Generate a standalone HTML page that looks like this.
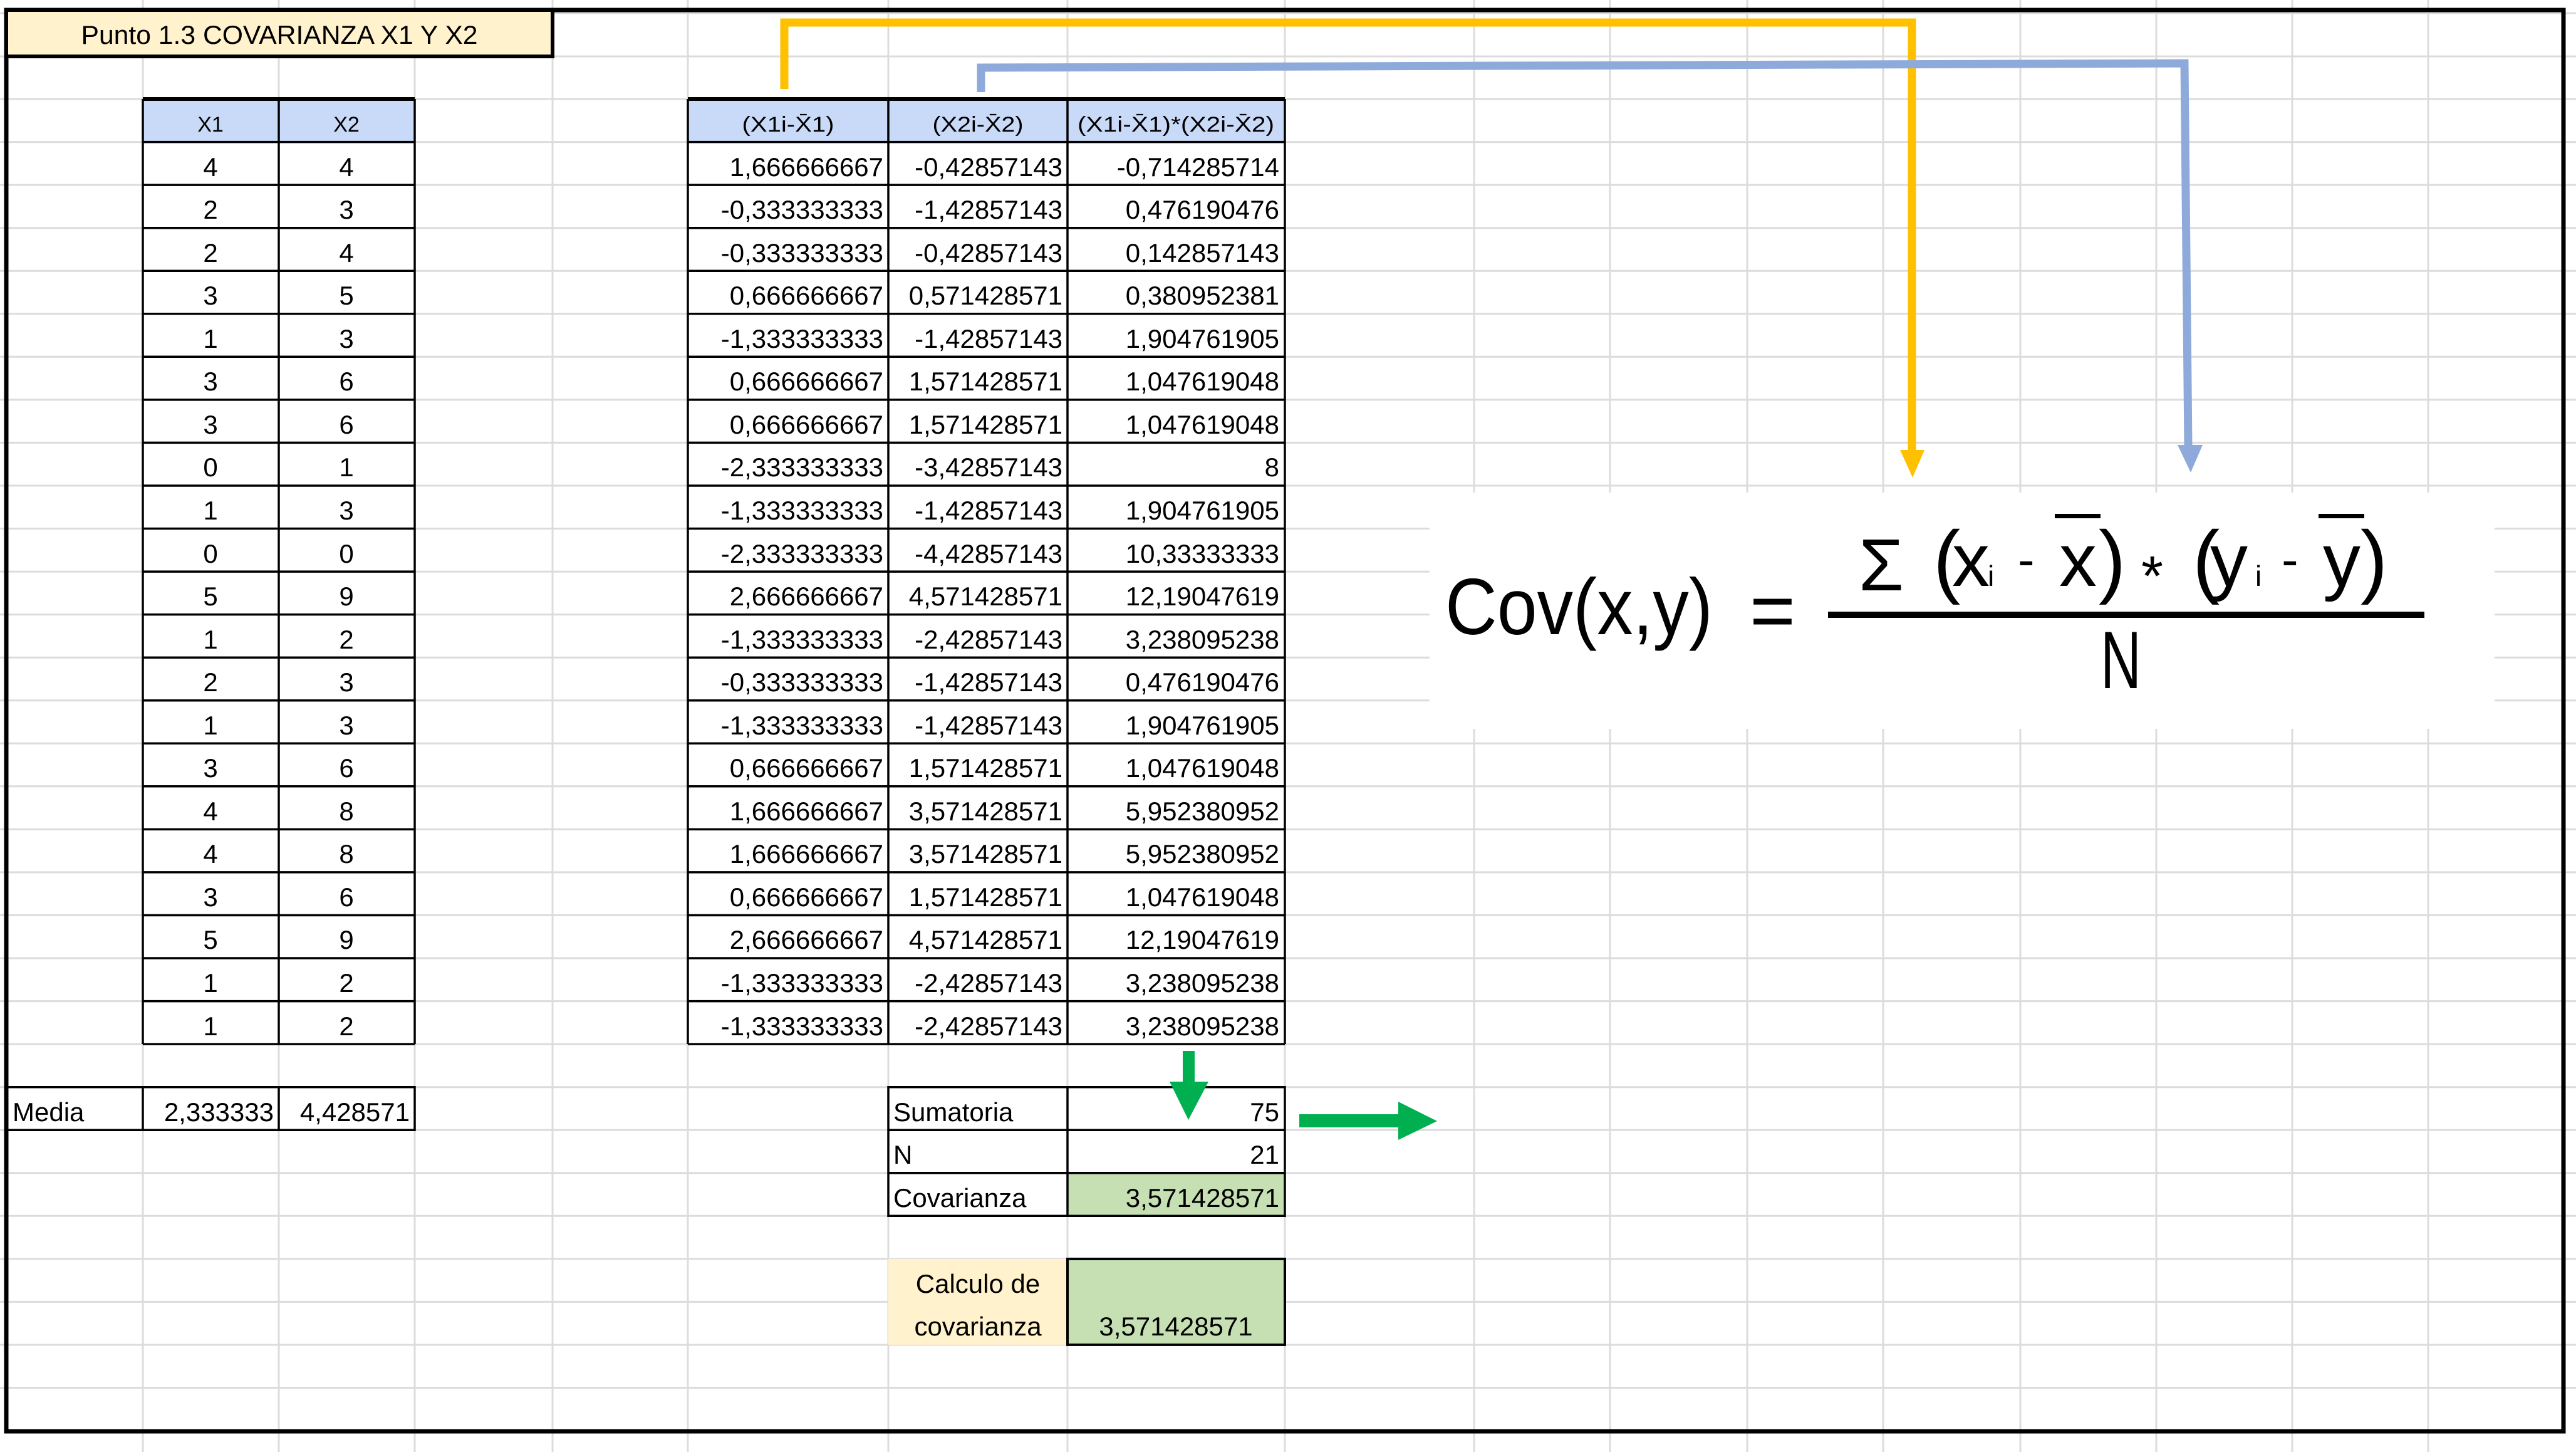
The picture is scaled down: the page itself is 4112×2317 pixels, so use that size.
<!DOCTYPE html>
<html><head><meta charset="utf-8"><style>
html,body{margin:0;padding:0;background:#fff;width:4112px;height:2317px;overflow:hidden}
svg{display:block}
text{font-family:"Liberation Sans",sans-serif;fill:#000}
.d{font-size:42px}
.h{font-size:34px}
.e{text-anchor:end}
.m{text-anchor:middle}
</style></head><body>
<svg width="4112" height="2317" viewBox="0 0 4112 2317" xmlns="http://www.w3.org/2000/svg">
<rect width="4112" height="2317" fill="#fff"/>
<!-- light grid -->
<g stroke="#dcdcdc" stroke-width="3">
<path d="M228 0V2317M445 0V2317M662 0V2317M882 0V2317M1098 0V2317M1418 0V2317M1704 0V2317M2051 0V2317M2353 0V2317M2570 0V2317M2789 0V2317M3006 0V2317M3225 0V2317M3442 0V2317M3659 0V2317M3876 0V2317"/>
<path d="M0 21H4112M0 90H4112M0 158H4112M0 226.6H4112M0 295.1H4112M0 363.7H4112M0 432.2H4112M0 500.8H4112M0 569.3H4112M0 637.9H4112M0 706.4H4112M0 775H4112M0 843.5H4112M0 912.1H4112M0 980.6H4112M0 1049.2H4112M0 1117.7H4112M0 1186.3H4112M0 1254.8H4112M0 1323.4H4112M0 1391.9H4112M0 1460.5H4112M0 1529H4112M0 1597.6H4112M0 1666.1H4112M0 1734.7H4112M0 1803.2H4112M0 1871.8H4112M0 1940.3H4112M0 2008.9H4112M0 2077.4H4112M0 2146H4112M0 2214.5H4112"/>
</g>
<!-- formula white box -->
<rect x="2282" y="786" width="1700" height="377" fill="#fff"/>
<!-- frame -->
<rect x="10" y="16" width="4082" height="2268" fill="none" stroke="#000" stroke-width="7"/>
<!-- title -->
<rect x="10" y="16" width="872" height="74" fill="#fff2cc" stroke="#000" stroke-width="6"/>
<text x="446" y="70" class="m" style="font-size:42px" textLength="633" lengthAdjust="spacingAndGlyphs">Punto 1.3 COVARIANZA X1 Y X2</text>

<!-- headers fill -->
<rect x="228" y="158" width="434" height="68.6" fill="#c9daf8"/>
<rect x="1098" y="158" width="953" height="68.6" fill="#c9daf8"/>
<!-- green cells -->
<rect x="1704" y="1871.8" width="347" height="68.5" fill="#c6e0b4"/>
<rect x="1418" y="2008.9" width="286" height="137" fill="#fff2cc"/>
<rect x="1704" y="2008.9" width="347" height="137" fill="#c6e0b4" stroke="#000" stroke-width="4"/>

<!-- table borders -->
<g stroke="#000" stroke-width="3.5" fill="none">
<path d="M228 158V1666.1M445 158V1666.1M662 158V1666.1"/>
<path d="M1098 158V1666.1M1418 158V1666.1M1704 158V1666.1M2051 158V1666.1"/>
<path d="M228 158H662M228 226.6H662M228 295.1H662M228 363.7H662M228 432.2H662M228 500.8H662M228 569.3H662M228 637.9H662M228 706.4H662M228 775H662M228 843.5H662M228 912.1H662M228 980.6H662M228 1049.2H662M228 1117.7H662M228 1186.3H662M228 1254.8H662M228 1323.4H662M228 1391.9H662M228 1460.5H662M228 1529H662M228 1597.6H662M228 1666.1H662"/>
<path d="M1098 158H2051M1098 226.6H2051M1098 295.1H2051M1098 363.7H2051M1098 432.2H2051M1098 500.8H2051M1098 569.3H2051M1098 637.9H2051M1098 706.4H2051M1098 775H2051M1098 843.5H2051M1098 912.1H2051M1098 980.6H2051M1098 1049.2H2051M1098 1117.7H2051M1098 1186.3H2051M1098 1254.8H2051M1098 1323.4H2051M1098 1391.9H2051M1098 1460.5H2051M1098 1529H2051M1098 1597.6H2051M1098 1666.1H2051"/>
<path d="M10 1734.7H662V1803.2H10M228 1734.7V1803.2M445 1734.7V1803.2"/>
<path d="M1418 1734.7H2051V1940.3H1418ZM1704 1734.7V1940.3M1418 1803.2H2051M1418 1871.8H2051"/>
</g>
<path d="M228 158H662M1098 158H2051" stroke="#000" stroke-width="6"/>

<!-- headers -->
<text x="336" y="210" class="h m">X1</text>
<text x="553" y="210" class="h m">X2</text>
<text x="1258" y="210" class="h m" textLength="147" lengthAdjust="spacingAndGlyphs">(X1i-X̄1)</text>
<text x="1561" y="210" class="h m" textLength="145" lengthAdjust="spacingAndGlyphs">(X2i-X̄2)</text>
<text x="1877" y="210" class="h m" textLength="314" lengthAdjust="spacingAndGlyphs">(X1i-X̄1)*(X2i-X̄2)</text>

<!-- X1 X2 -->
<g class="d m">
<text x="336" y="281">4</text><text x="553" y="281">4</text>
<text x="336" y="349">2</text><text x="553" y="349">3</text>
<text x="336" y="418">2</text><text x="553" y="418">4</text>
<text x="336" y="486">3</text><text x="553" y="486">5</text>
<text x="336" y="555">1</text><text x="553" y="555">3</text>
<text x="336" y="623">3</text><text x="553" y="623">6</text>
<text x="336" y="692">3</text><text x="553" y="692">6</text>
<text x="336" y="760">0</text><text x="553" y="760">1</text>
<text x="336" y="829">1</text><text x="553" y="829">3</text>
<text x="336" y="898">0</text><text x="553" y="898">0</text>
<text x="336" y="966">5</text><text x="553" y="966">9</text>
<text x="336" y="1035">1</text><text x="553" y="1035">2</text>
<text x="336" y="1103">2</text><text x="553" y="1103">3</text>
<text x="336" y="1172">1</text><text x="553" y="1172">3</text>
<text x="336" y="1240">3</text><text x="553" y="1240">6</text>
<text x="336" y="1309">4</text><text x="553" y="1309">8</text>
<text x="336" y="1377">4</text><text x="553" y="1377">8</text>
<text x="336" y="1446">3</text><text x="553" y="1446">6</text>
<text x="336" y="1514">5</text><text x="553" y="1514">9</text>
<text x="336" y="1583">1</text><text x="553" y="1583">2</text>
<text x="336" y="1652">1</text><text x="553" y="1652">2</text>
</g>

<!-- data columns -->
<g class="d e">
<text x="1410" y="281">1,666666667</text><text x="1696" y="281">-0,42857143</text><text x="2042" y="281">-0,714285714</text>
<text x="1410" y="349">-0,333333333</text><text x="1696" y="349">-1,42857143</text><text x="2042" y="349">0,476190476</text>
<text x="1410" y="418">-0,333333333</text><text x="1696" y="418">-0,42857143</text><text x="2042" y="418">0,142857143</text>
<text x="1410" y="486">0,666666667</text><text x="1696" y="486">0,571428571</text><text x="2042" y="486">0,380952381</text>
<text x="1410" y="555">-1,333333333</text><text x="1696" y="555">-1,42857143</text><text x="2042" y="555">1,904761905</text>
<text x="1410" y="623">0,666666667</text><text x="1696" y="623">1,571428571</text><text x="2042" y="623">1,047619048</text>
<text x="1410" y="692">0,666666667</text><text x="1696" y="692">1,571428571</text><text x="2042" y="692">1,047619048</text>
<text x="1410" y="760">-2,333333333</text><text x="1696" y="760">-3,42857143</text><text x="2042" y="760">8</text>
<text x="1410" y="829">-1,333333333</text><text x="1696" y="829">-1,42857143</text><text x="2042" y="829">1,904761905</text>
<text x="1410" y="898">-2,333333333</text><text x="1696" y="898">-4,42857143</text><text x="2042" y="898">10,33333333</text>
<text x="1410" y="966">2,666666667</text><text x="1696" y="966">4,571428571</text><text x="2042" y="966">12,19047619</text>
<text x="1410" y="1035">-1,333333333</text><text x="1696" y="1035">-2,42857143</text><text x="2042" y="1035">3,238095238</text>
<text x="1410" y="1103">-0,333333333</text><text x="1696" y="1103">-1,42857143</text><text x="2042" y="1103">0,476190476</text>
<text x="1410" y="1172">-1,333333333</text><text x="1696" y="1172">-1,42857143</text><text x="2042" y="1172">1,904761905</text>
<text x="1410" y="1240">0,666666667</text><text x="1696" y="1240">1,571428571</text><text x="2042" y="1240">1,047619048</text>
<text x="1410" y="1309">1,666666667</text><text x="1696" y="1309">3,571428571</text><text x="2042" y="1309">5,952380952</text>
<text x="1410" y="1377">1,666666667</text><text x="1696" y="1377">3,571428571</text><text x="2042" y="1377">5,952380952</text>
<text x="1410" y="1446">0,666666667</text><text x="1696" y="1446">1,571428571</text><text x="2042" y="1446">1,047619048</text>
<text x="1410" y="1514">2,666666667</text><text x="1696" y="1514">4,571428571</text><text x="2042" y="1514">12,19047619</text>
<text x="1410" y="1583">-1,333333333</text><text x="1696" y="1583">-2,42857143</text><text x="2042" y="1583">3,238095238</text>
<text x="1410" y="1652">-1,333333333</text><text x="1696" y="1652">-2,42857143</text><text x="2042" y="1652">3,238095238</text>
</g>

<!-- media -->
<text x="20" y="1789" class="d">Media</text>
<text x="437" y="1789" class="d e">2,333333</text>
<text x="654" y="1789" class="d e">4,428571</text>

<!-- summary -->
<text x="1426" y="1789" class="d">Sumatoria</text>
<text x="2042" y="1789" class="d e">75</text>
<text x="1426" y="1857" class="d">N</text>
<text x="2042" y="1857" class="d e">21</text>
<text x="1426" y="1926" class="d">Covarianza</text>
<text x="2042" y="1926" class="d e">3,571428571</text>
<text x="1561" y="2063" class="d m">Calculo de</text>
<text x="1561" y="2131" class="d m">covarianza</text>
<text x="1877" y="2131" class="d m">3,571428571</text>

<!-- green arrows -->
<g fill="#00b050">
<rect x="1888" y="1677" width="19" height="50"/>
<polygon points="1867,1726 1929,1726 1897,1787"/>
<rect x="2074" y="1778" width="160" height="21"/>
<polygon points="2232,1758 2294,1789 2232,1819"/>
</g>

<!-- yellow connector -->
<path d="M1252 142V36H3052V720" fill="none" stroke="#ffc000" stroke-width="13"/>
<polygon points="3033,718 3072,718 3053,762" fill="#ffc000"/>
<!-- blue connector -->
<path d="M1566 147V108L3487 101L3493 712" fill="none" stroke="#8eaadb" stroke-width="13"/>
<polygon points="3476,710 3516,710 3497,754" fill="#8eaadb"/>

<!-- formula -->
<g>
<text x="2307" y="1012" style="font-size:127px" textLength="427" lengthAdjust="spacingAndGlyphs">Cov(x,y)</text>
<text x="2793" y="1018" style="font-size:127px" textLength="73" lengthAdjust="spacingAndGlyphs">=</text>
<rect x="2918" y="976" width="952" height="10" fill="#000"/>
<text x="2967" y="942" style="font-size:118px" textLength="72" lengthAdjust="spacingAndGlyphs">Σ</text>
<text x="3086" y="938" style="font-size:130px">(</text>
<text x="3116" y="935" style="font-size:120px">x</text>
<text x="3173" y="935" style="font-size:46px">i</text>
<text x="3221" y="920" style="font-size:80px">-</text>
<text x="3287" y="935" style="font-size:120px">x</text>
<rect x="3280" y="820" width="73" height="7" fill="#000"/>
<text x="3350" y="938" style="font-size:130px">)</text>
<text x="3418" y="950" style="font-size:90px">*</text>
<text x="3500" y="938" style="font-size:130px">(</text>
<text x="3528" y="935" style="font-size:120px">y</text>
<text x="3600" y="935" style="font-size:46px">i</text>
<text x="3642" y="920" style="font-size:80px">-</text>
<text x="3708" y="935" style="font-size:120px">y</text>
<rect x="3701" y="820" width="73" height="7" fill="#000"/>
<text x="3768" y="938" style="font-size:130px">)</text>
<text x="3353" y="1098" style="font-size:130px" textLength="65" lengthAdjust="spacingAndGlyphs">N</text>
</g>
</svg>
</body></html>
